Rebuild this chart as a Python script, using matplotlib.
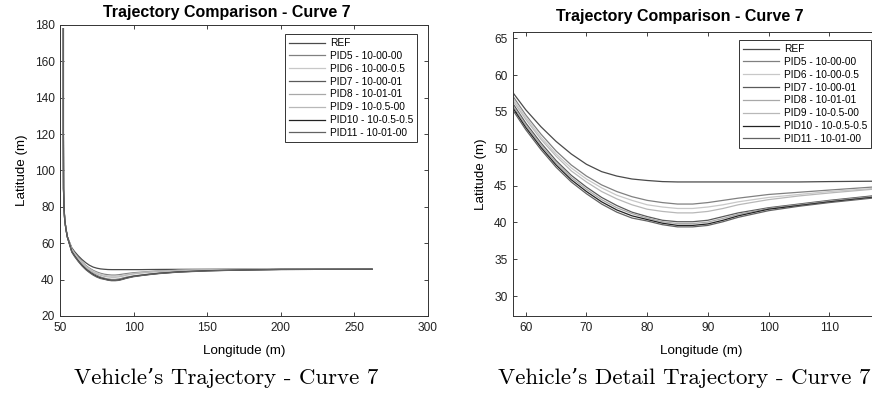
import matplotlib.pyplot as plt

plt.rcParams['font.family'] = ['Liberation Sans', 'DejaVu Sans']

# ---- data ----
labels = ['REF', 'PID5 - 10-00-00', 'PID6 - 10-00-0.5', 'PID7 - 10-00-01',
          'PID8 - 10-01-01', 'PID9 - 10-0.5-00', 'PID10 - 10-0.5-0.5',
          'PID11 - 10-01-00']
colores = ['#4a4a4a', '#808080', '#c8c8c8', '#5a5a5a',
           '#a8a8a8', '#b8b8b8', '#222222', '#626262']

# common start of every trajectory (vertical approach)
x_inicio = [52.3, 52.3, 52.4, 52.7, 53.2, 54.0, 55.0]
y_inicio = [178.0, 120.0, 90.0, 80.0, 73.0, 68.0, 63.5]

x_curva = [58, 60, 62.5, 65, 67.5, 70, 72.5, 75, 77.5, 80, 82.5, 85, 87.5,
           90, 92.5, 95, 100, 105, 110, 117, 130, 150, 175, 200, 262]

y_ref = [57.5, 55.3, 53.0, 51.0, 49.3, 47.9, 46.9, 46.3, 45.9, 45.7, 45.55,
         45.5, 45.5, 45.5, 45.5, 45.5, 45.5, 45.5, 45.55, 45.6, 45.65, 45.7,
         45.7, 45.7, 45.7]
y_pid5 = [57.0, 54.6, 52.0, 49.7, 47.8, 46.3, 45.1, 44.2, 43.5, 43.0, 42.7,
          42.5, 42.5, 42.7, 43.0, 43.3, 43.8, 44.1, 44.4, 44.8, 45.2, 45.5,
          45.7, 45.7, 45.7]
y_pid6 = [56.7, 54.3, 51.6, 49.3, 47.4, 45.9, 44.7, 43.7, 43.0, 42.4, 42.1,
          41.9, 41.9, 42.1, 42.4, 42.8, 43.4, 43.8, 44.2, 44.6, 45.1, 45.4,
          45.6, 45.7, 45.7]
y_pid9 = [56.4, 54.0, 51.3, 49.0, 47.0, 45.5, 44.2, 43.2, 42.4, 41.8, 41.5,
          41.3, 41.3, 41.5, 41.9, 42.4, 43.1, 43.6, 44.0, 44.5, 45.0, 45.4,
          45.6, 45.7, 45.7]
y_pid7 = [56.0, 53.5, 50.8, 48.4, 46.4, 44.8, 43.4, 42.3, 41.4, 40.8, 40.3,
          40.1, 40.1, 40.3, 40.8, 41.3, 42.0, 42.5, 43.0, 43.6, 44.4, 45.0,
          45.4, 45.6, 45.7]
y_pid8 = [55.7, 53.2, 50.5, 48.1, 46.1, 44.5, 43.1, 42.0, 41.2, 40.6, 40.1,
          39.85, 39.85, 40.05, 40.55, 41.1, 41.9, 42.4, 42.9, 43.5, 44.3, 44.9,
          45.4, 45.6, 45.7]
y_pid10 = [55.4, 52.9, 50.2, 47.8, 45.8, 44.2, 42.8, 41.7, 40.9, 40.4, 39.9,
           39.6, 39.6, 39.8, 40.3, 40.9, 41.8, 42.3, 42.8, 43.4, 44.2, 44.9,
           45.3, 45.6, 45.7]
y_pid11 = [55.1, 52.6, 49.9, 47.5, 45.5, 43.9, 42.5, 41.4, 40.6, 40.2, 39.7,
           39.4, 39.4, 39.6, 40.1, 40.7, 41.6, 42.2, 42.7, 43.3, 44.1, 44.8,
           45.3, 45.6, 45.7]

series = [y_ref, y_pid5, y_pid6, y_pid7, y_pid8, y_pid9, y_pid10, y_pid11]


def dibujar(ax):
    for y, lab, col in zip(series, labels, colores):
        ax.plot(x_inicio + x_curva, y_inicio + y, color=col, lw=0.9, label=lab)
    ax.tick_params(direction='in', top=True, right=True, labelsize=8.6,
                   length=3, width=0.6, colors='#222222', pad=4)
    for s in ax.spines.values():
        s.set_linewidth(0.7)
        s.set_color('#333333')
    ax.set_xlabel('Longitude (m)', fontsize=9.6, labelpad=8)
    ax.set_ylabel('Latitude (m)', fontsize=9.6, labelpad=5)


def leyenda(ax, x, y):
    leg = ax.legend(loc='upper right', bbox_to_anchor=(x / 872, 1 - y / 403),
                    bbox_transform=fig.transFigure, borderaxespad=0,
                    fontsize=7.3, handlelength=3.6, labelspacing=0.28,
                    fancybox=False, framealpha=1, edgecolor='#333333',
                    borderpad=0.4, handletextpad=0.45)
    leg.get_frame().set_linewidth(0.7)


fig = plt.figure(figsize=(8.72, 4.03), dpi=100)

# left panel
ax1 = fig.add_axes([60 / 872, 87 / 403, 368 / 872, 291 / 403])
dibujar(ax1)
ax1.set_xlim(50, 300)
ax1.set_ylim(20, 180)
ax1.set_xticks(range(50, 301, 50))
ax1.set_yticks(range(20, 181, 20))
leyenda(ax1, 417, 34)

# right panel (detail, cut at the figure edge)
ax2 = fig.add_axes([513 / 872, 87 / 403, 377 / 872, 284 / 403])
dibujar(ax2)
ax2.set_xlim(57.9, 120)
ax2.set_ylim(27.3, 65.86)
ax2.set_xticks(range(60, 111, 10))
ax2.set_yticks(range(30, 66, 5))
leyenda(ax2, 871, 40)

# titles
fig.text(227 / 872, 1 - 12 / 403, 'Trajectory Comparison - Curve 7',
         ha='center', va='center', fontsize=11.5, fontweight='bold')
fig.text(680 / 872, 1 - 17 / 403, 'Trajectory Comparison - Curve 7',
         ha='center', va='center', fontsize=11.5, fontweight='bold')

# captions
fig.text(226 / 872, 1 - 378 / 403, "Vehicle\u2019s Trajectory - Curve 7",
         ha='center', va='center', fontsize=16.5,
         family=['cmr10', 'DejaVu Serif'])
fig.text(684 / 872, 1 - 378 / 403, "Vehicle\u2019s Detail Trajectory - Curve 7",
         ha='center', va='center', fontsize=16.5,
         family=['cmr10', 'DejaVu Serif'])

fig.savefig('out.png', dpi=100)
